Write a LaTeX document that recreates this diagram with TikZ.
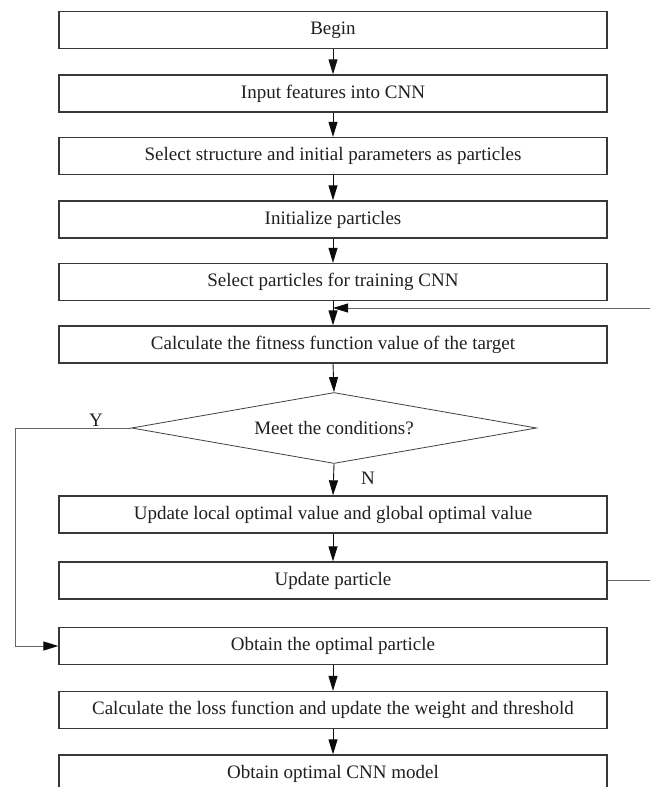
\documentclass[tikz,border=0pt]{standalone}
\usepackage{fontspec}
\setmainfont{Liberation Serif}
\usetikzlibrary{arrows.meta,shapes.geometric}
\definecolor{arrcol}{RGB}{12,12,12}
\definecolor{topcol}{RGB}{20,20,24}
\begin{document}
\begin{tikzpicture}[x=1pt,y=-1pt,
  box/.style={draw=black!78,line width=1.3pt,minimum width=548pt,minimum height=37pt,inner sep=0pt,font=\fontsize{19}{21}\selectfont,text=black!88},
  dia/.style={draw=black!75,line width=0.8pt,diamond,aspect=5.7,minimum width=405pt,minimum height=71pt,inner sep=0pt,font=\fontsize{19}{21}\selectfont,text=black!88},
  arr/.style={draw=arrcol,line width=0.9pt,-{Triangle[length=15pt,width=9pt]}},
  loop/.style={draw=black!60,line width=0.9pt,-{Triangle[length=15pt,width=9pt,color=arrcol]}},
  lab/.style={font=\fontsize{19}{21}\selectfont,text=black!88,inner sep=0pt}]
\useasboundingbox (0,0) rectangle (649,787);
\node[box] (b1) at (333,30) {Begin};
\node[box] (b2) at (333,93.5) {Input features into CNN};
\node[box] (b3) at (333,156) {Select structure and initial parameters as particles};
\node[box] (b4) at (333,219.5) {Initialize particles};
\node[box] (b5) at (333,282) {Select particles for training CNN};
\node[box] (b6) at (333,344.5) {Calculate the fitness function value of the target};
\node[dia] (d) at (334,428) {Meet the conditions?};
\node[box] (b7) at (333,514.5) {Update local optimal value and global optimal value};
\node[box] (b8) at (333,580.5) {Update particle};
\node[box] (b9) at (333,646) {Obtain the optimal particle};
\node[box] (b10) at (333,710) {Calculate the loss function and update the weight and threshold};
\node[box] (b11) at (333,773.5) {Obtain optimal CNN model};
\coordinate (rt) at (690,308);
\coordinate (yl) at (15,428);
\node[lab] (ylab) at (96,420) {Y};
\node[lab] (nlab) at (368,478) {N};
\draw[arr] (b2.south) -- (b3.north);
\draw[arr] (b3.south) -- (b4.north);
\draw[arr] (b4.south) -- (b5.north);
\draw[arr] (b5.south) -- (b6.north);
\draw[arr] (b6.south) -- (d.north);
\draw[arr] (d.south) -- (b7.north);
\draw[arr] (b7.south) -- (b8.north);
\draw[arr] (b9.south) -- (b10.north);
\draw[arr] (b10.south) -- (b11.north);
\draw[loop] (b8.east) -- (b8.east -| rt) -- (rt) -- (rt -| b6.north);
\draw[loop] (d.west) -- (yl) |- (b9.west);
\draw[arr,draw=topcol] (b1.south) -- (b2.north);
\end{tikzpicture}
\end{document}
